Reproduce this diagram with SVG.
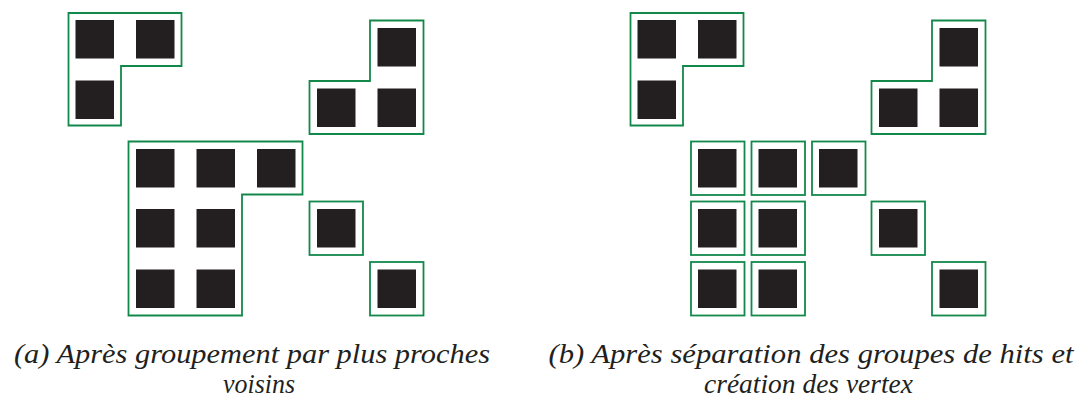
<svg xmlns="http://www.w3.org/2000/svg" width="1082" height="403" viewBox="0 0 1082 403">
<style>
.hit{fill:#231f20}
.grp{fill:none;stroke:#12894a;stroke-width:1.8;stroke-linejoin:miter}
text{font-family:'Liberation Serif','Times New Roman',serif;font-style:italic;font-size:27px;fill:#231f20;text-anchor:middle}
</style>
<defs>
<rect id="sq" width="38.5" height="38.5" class="hit"/>
<rect id="box" width="53.5" height="53.5" class="grp"/>
</defs>
<rect width="1082" height="403" fill="#fff"/>
<g id="panel-a">
<g id="a-group1">
<path class="grp" d="M68.5,13 H181.5 V66 H121 V125.5 H68.5 Z"/>
<use href="#sq" x="75.5" y="20"/><use href="#sq" x="136" y="20"/><use href="#sq" x="75.5" y="80.5"/>
</g>
<g id="a-group2">
<path class="grp" d="M370,20.5 H423.5 V134 H309.5 V81 H370 Z"/>
<use href="#sq" x="377.5" y="28"/><use href="#sq" x="317" y="88.5"/><use href="#sq" x="377.5" y="88.5"/>
</g>
<g id="a-group3">
<path class="grp" d="M128.5,141.5 H302.5 V194.5 H242 V315.5 H128.5 Z"/>
<use href="#sq" x="136" y="149"/><use href="#sq" x="196.5" y="149"/><use href="#sq" x="257" y="149"/>
<use href="#sq" x="136" y="209"/><use href="#sq" x="196.5" y="209"/>
<use href="#sq" x="136" y="269.5"/><use href="#sq" x="196.5" y="269.5"/>
</g>
<g id="a-single1">
<use href="#box" x="309.5" y="201.5"/><use href="#sq" x="317" y="209"/>
</g>
<g id="a-single2">
<use href="#box" x="370" y="262"/><use href="#sq" x="377.5" y="269.5"/>
</g>
</g>
<g id="panel-b">
<g id="b-group1">
<path class="grp" d="M630.5,13 H743.5 V66 H683 V125.5 H630.5 Z"/>
<use href="#sq" x="637.5" y="20"/><use href="#sq" x="698" y="20"/><use href="#sq" x="637.5" y="80.5"/>
</g>
<g id="b-group2">
<path class="grp" d="M932,20.5 H985.5 V134 H871.5 V81 H932 Z"/>
<use href="#sq" x="939.5" y="28"/><use href="#sq" x="879" y="88.5"/><use href="#sq" x="939.5" y="88.5"/>
</g>
<g id="b-v1"><use href="#box" x="691" y="141.5"/><use href="#sq" x="698" y="149"/></g>
<g id="b-v2"><use href="#box" x="751.5" y="141.5"/><use href="#sq" x="758.5" y="149"/></g>
<g id="b-v3"><use href="#box" x="812" y="141.5"/><use href="#sq" x="819" y="149"/></g>
<g id="b-v4"><use href="#box" x="691" y="201.5"/><use href="#sq" x="698" y="209"/></g>
<g id="b-v5"><use href="#box" x="751.5" y="201.5"/><use href="#sq" x="758.5" y="209"/></g>
<g id="b-v6"><use href="#box" x="691" y="262"/><use href="#sq" x="698" y="269.5"/></g>
<g id="b-v7"><use href="#box" x="751.5" y="262"/><use href="#sq" x="758.5" y="269.5"/></g>
<g id="b-single1"><use href="#box" x="871.5" y="201.5"/><use href="#sq" x="879" y="209"/></g>
<g id="b-single2"><use href="#box" x="932" y="262"/><use href="#sq" x="939.5" y="269.5"/></g>
</g>
<g id="captions">
<text x="252" y="363" textLength="476" lengthAdjust="spacingAndGlyphs">(a) Après groupement par plus proches</text>
<text x="259" y="393" textLength="72" lengthAdjust="spacingAndGlyphs">voisins</text>
<text x="811" y="363" textLength="525" lengthAdjust="spacingAndGlyphs">(b) Après séparation des groupes de hits et</text>
<text x="808.5" y="393" textLength="209" lengthAdjust="spacingAndGlyphs">création des vertex</text>
</g>
</svg>
